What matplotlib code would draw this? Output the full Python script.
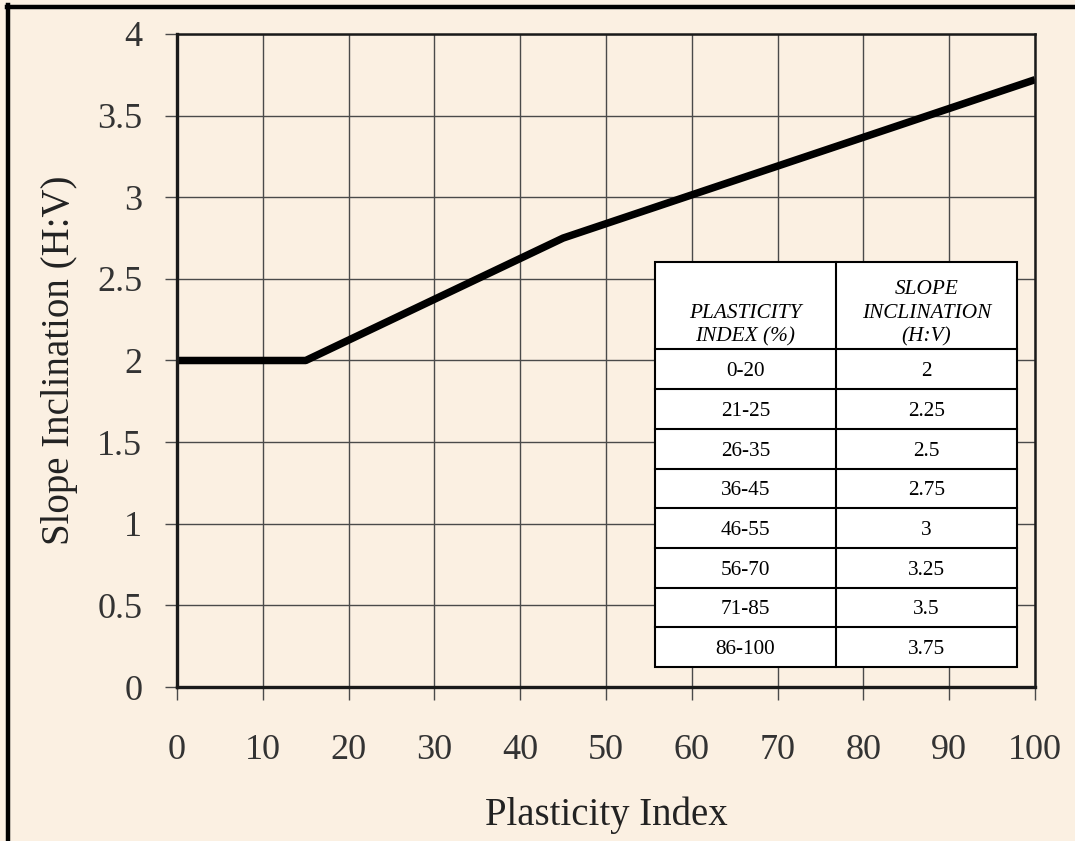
import matplotlib
matplotlib.use("Agg")
import matplotlib.pyplot as plt
from matplotlib.patches import Rectangle
from matplotlib.lines import Line2D

# ---- data ----
pi_points = [0, 15, 45, 100]
slope_points = [2.0, 2.0, 2.75, 3.72]

x_ticks = [0, 10, 20, 30, 40, 50, 60, 70, 80, 90, 100]
y_ticks = [0, 0.5, 1, 1.5, 2, 2.5, 3, 3.5, 4]
y_tick_labels = ["0", "0.5", "1", "1.5", "2", "2.5", "3", "3.5", "4"]

table_header = ["PLASTICITY\nINDEX (%)", "SLOPE\nINCLINATION\n(H:V)"]
table_ranges = ["0-20", "21-25", "26-35", "36-45", "46-55", "56-70", "71-85", "86-100"]
table_slopes = ["2", "2.25", "2.5", "2.75", "3", "3.25", "3.5", "3.75"]

# ---- style ----
bg = "#FBF0E2"
plt.rcParams['font.family'] = ['Liberation Serif', 'DejaVu Serif']

fig = plt.figure(figsize=(10.75, 8.41), dpi=100, facecolor=bg)
ax = fig.add_axes([0.1647, 0.1831, 0.7981, 0.7765])
ax.set_facecolor(bg)

ax.plot(pi_points, slope_points, color="black", lw=5.4, solid_capstyle="butt",
        solid_joinstyle="round", zorder=3)

ax.set_xlim(0, 100)
ax.set_ylim(0, 4)
ax.set_xticks(x_ticks)
ax.set_yticks(y_ticks)
ax.set_yticklabels(y_tick_labels)
ax.grid(True, color="#4a4a4a", lw=1.0, zorder=1)
ax.set_axisbelow(True)

ax.tick_params(axis="x", direction="out", length=9, width=1, color="#4a4a4a",
               labelsize=26, labelcolor="#333333", pad=25)
ax.tick_params(axis="y", direction="out", length=9, width=1, color="#4a4a4a",
               labelsize=26, labelcolor="#333333", pad=16)

for side in ["left", "bottom"]:
    ax.spines[side].set_linewidth(2.4)
for side in ["top", "right"]:
    ax.spines[side].set_linewidth(1.8)
for s in ax.spines.values():
    s.set_color("#1a1a1a")
    s.set_zorder(4)

ax.set_xlabel("Plasticity Index", fontsize=28, color="#222222", labelpad=21)
ax.set_ylabel("Slope Inclination (H:V)", fontsize=28, color="#222222", labelpad=14)

# ---- table (axes-fraction layout) ----
t_left, t_right = 0.557, 0.979
t_bottom = 0.0306
t_mid = (836 - 177) / 858
header_h = 87 / 653
row_h = 39.7 / 653
n = len(table_ranges)
t_top = t_bottom + header_h + n * row_h
tr = ax.transAxes
lw_t = 1.5
cell_fs = 15.3

ax.add_patch(Rectangle((t_left, t_bottom), t_right - t_left, t_top - t_bottom,
                       transform=tr, facecolor="white", edgecolor="black",
                       lw=lw_t, zorder=5, clip_on=False))
ax.add_line(Line2D([t_mid, t_mid], [t_bottom, t_top], transform=tr, color="black",
                   lw=lw_t, zorder=6, clip_on=False))
for i in range(1, n + 1):
    y = t_bottom + i * row_h
    ax.add_line(Line2D([t_left, t_right], [y, y], transform=tr, color="black",
                       lw=lw_t, zorder=6, clip_on=False))
hy = t_bottom + n * row_h

c1 = (t_left + t_mid) / 2
c2 = (t_mid + t_right) / 2
for i, (r, s) in enumerate(zip(table_ranges, table_slopes)):
    yc = t_bottom + (n - i - 0.5) * row_h
    ax.text(c1, yc, r, transform=tr, ha="center", va="center_baseline",
            fontsize=cell_fs, color="black", zorder=7)
    ax.text(c2, yc, s, transform=tr, ha="center", va="center_baseline",
            fontsize=cell_fs, color="black", zorder=7)

ax.text(c1, hy + 0.005, table_header[0], transform=tr, ha="center", va="bottom",
        fontsize=cell_fs, style="italic", color="black", zorder=7, linespacing=1.3)
ax.text(c2, hy + 0.005, table_header[1], transform=tr, ha="center", va="bottom",
        fontsize=cell_fs, style="italic", color="black", zorder=7, linespacing=1.3)

# ---- figure frame (top and left) ----
fig.add_artist(Line2D([0.0065, 1.0], [0.9917, 0.9917], transform=fig.transFigure,
                      color="black", lw=3.2))
fig.add_artist(Line2D([0.0075, 0.0075], [0.0, 0.9935], transform=fig.transFigure,
                      color="black", lw=3.2))

fig.savefig("out.png", dpi=100, facecolor=bg)
